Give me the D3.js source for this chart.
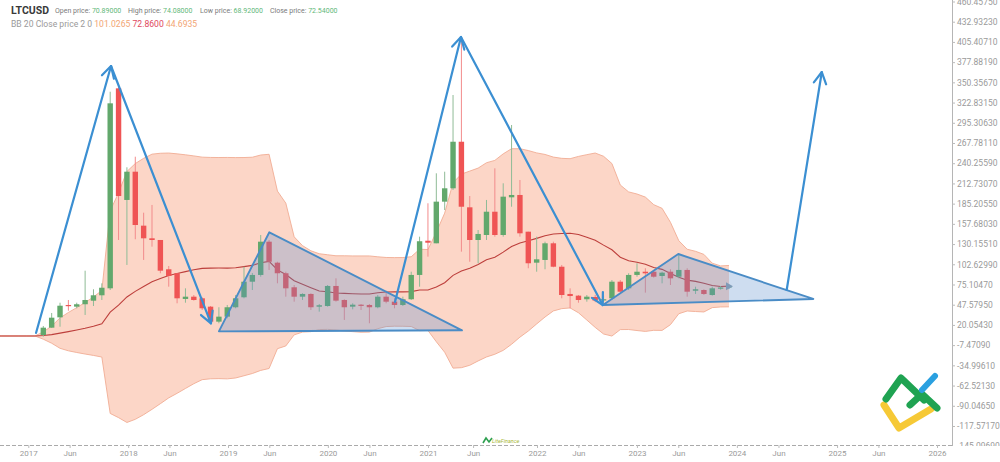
<!DOCTYPE html>
<html><head><meta charset="utf-8">
<script src="https://cdnjs.cloudflare.com/ajax/libs/d3/7.8.5/d3.min.js"></script>
<style>
html,body{margin:0;padding:0;background:#fff;}
svg{display:block;font-family:Roboto,"Liberation Sans",Arial,sans-serif;}
</style></head><body>
<svg id="chart" width="1000" height="462"></svg>
<script>
// ---------------- DATA ----------------
const symbol = "LTCUSD";
// monthly candles, March 2017 .. January 2024
const months = d3.timeMonth.range(new Date(2017, 2, 1), new Date(2024, 1, 1));
const candleOpen = [6.3,16.3,30.4,47.2,44.9,48.2,53.0,60.4,69.9,342.2,
190.2,228.7,155.2,138.0,135.7,95.8,90.4,55.4,58.5,56.3,
44.9,24.5,31.3,44.1,57.7,78.9,88.1,133.4,104.8,90.4,
71.3,58.5,62.2,44.9,45.8,73.1,54.0,44.9,47.6,47.2,
44.1,58.5,51.7,47.2,55.0,88.1,134.7,131.2,187.9,206.1,
269.5,180.2,135.7,142.5,174.2,142.5,193.8,197.0,147.0,104.8,
108.5,131.2,99.3,62.2,59.9,55.0,58.1,53.5,56.3,78.9,
69.9,88.1,92.5,92.5,86.7,92.5,85.7,94.9,66.6,67.6,
60.8,69.9,70.89];
const candleHigh = [18.6,36.3,50.3,54.0,50.3,93.9,68.6,76.7,337.6,344.4,
234.7,249.1,172.9,183.4,135.7,100.3,90.4,69.9,60.8,57.7,
45.8,44.1,47.2,60.8,99.3,90.8,142.5,135.7,106.1,92.5,
74.4,63.1,63.1,48.5,74.4,83.5,55.0,49.5,48.5,48.5,
60.8,66.7,56.3,58.5,92.5,140.2,185.7,226.5,228.7,333.1,
412.5,195.6,149.3,190.2,233.3,212.9,292.3,217.4,147.0,140.2,
133.4,133.4,101.7,69.9,60.8,60.8,61.0,60.0,81.2,81.2,
90.4,104.0,97.2,94.9,92.5,95.8,115.3,97.2,72.1,68.6,
72.1,73.0,74.08];
const candleLow = [4.0,15.9,17.6,39.4,42.7,33.6,45.8,54.0,67.6,135.7,
101.7,136.7,108.5,126.6,90.4,72.1,49.5,50.3,53.1,40.4,
22.3,22.3,29.1,42.7,56.3,67.6,85.7,94.9,76.7,58.5,
51.7,54.0,40.4,38.1,44.9,51.7,26.8,41.3,40.4,22.3,
42.7,49.5,42.7,45.8,54.0,72.1,113.0,131.2,176.5,203.8,
119.8,106.1,104.0,135.7,140.2,140.2,181.0,140.2,97.2,92.5,
95.8,98.5,56.3,42.7,50.3,51.7,51.0,50.5,54.0,64.0,
67.6,85.7,64.0,84.4,76.7,74.4,83.5,58.5,62.2,60.8,
59.9,68.0,68.92];
const candleClose = [16.3,29.9,46.2,45.8,48.2,54.0,60.4,70.7,321.8,195.6,
228.7,156.1,138.0,135.7,93.9,86.7,56.3,58.5,54.0,42.7,
24.5,31.3,44.1,56.3,78.9,88.1,133.4,106.1,90.4,69.9,
58.5,62.2,44.1,46.8,73.1,53.1,44.1,47.6,46.2,44.1,
58.5,51.7,47.2,55.0,88.1,134.0,132.0,187.9,206.1,269.5,
181.0,135.7,143.9,174.2,142.5,194.7,197.0,144.8,104.0,109.4,
131.2,99.3,60.8,59.4,54.0,58.5,53.3,55.0,78.9,65.3,
88.1,92.5,90.3,85.7,91.2,83.5,94.9,65.3,68.6,62.2,
69.9,71.0,72.54];

// Bollinger bands (20, 2); first entry is 6 months before March 2017
const bbFirstIndex = -6;
const bbUpper = [5,5,5,5,5,5,
10.5,18.5,29.6,37.0,43.6,50.6,58.1,66.9,175.3,200.1,
229.0,239.8,246.9,252.6,253.8,254.1,253.0,251.7,250.2,248.5,
248.1,248.0,248.1,247.9,248.0,248.4,251.4,252.4,202.3,185.9,
140.0,128.0,121.0,117.0,115.6,114.2,114.2,114.0,114.0,114.0,
112.8,111.9,111.7,111.8,112.9,123.1,122.7,146.3,172.3,213.7,
225.4,229.5,233.6,240.9,244.1,253.0,260.0,260.0,257.5,254.3,
252.2,248.6,246.9,246.4,249.5,251.9,254.1,249.7,239.8,210.6,
201.2,198.3,194.1,183.8,178.8,159.8,134.7,123.1,120.3,116.1,
104.1,100.4,101.0265];
const bbMiddle = [5,5,5,5,5,5,
5.6,6.8,8.9,10.9,13.1,15.5,18.3,21.6,37.4,46.9,
58.1,65.7,72.3,78.9,83.3,87.4,90.0,92.6,95.1,97.0,
97.4,97.5,97.4,97.9,99.4,101.1,104.8,106.5,95.0,88.7,
80.2,75.5,70.8,66.3,65.3,63.6,63.0,62.5,62.1,62.1,
63.8,64.9,65.0,65.0,65.4,67.7,67.6,71.7,77.5,87.5,
93.6,97.3,102.3,108.7,112.1,119.2,126.9,131.7,134.6,137.9,
141.5,143.9,144.6,144.8,143.1,139.3,135.4,128.7,122.4,112.2,
107.5,105.3,102.7,98.2,95.7,90.1,85.0,81.0,79.3,76.9,
73.8,72.4,72.86];
const bbLower = [5,5,5,5,5,5,
0.6,-4.9,-11.8,-15.2,-17.5,-19.6,-21.5,-23.7,-100.5,-106.2,
-112.8,-108.5,-102.2,-94.9,-87.2,-79.3,-73.1,-66.5,-60.0,-54.5,
-53.3,-53.1,-53.4,-52.2,-49.2,-46.1,-41.9,-39.3,-12.3,-8.6,
6.5,10.3,10.9,13.7,14.0,13.1,11.8,10.9,10.1,10.3,
14.9,17.8,18.3,18.2,17.9,12.3,12.5,-2.9,-17.2,-38.8,
-38.2,-34.9,-29.0,-23.6,-19.9,-14.6,-6.3,3.4,11.7,21.4,
30.8,39.1,42.2,43.2,36.6,26.7,16.7,7.7,4.9,13.7,
13.8,12.4,11.2,12.7,12.6,20.4,35.3,39.0,38.3,37.7,
43.6,44.5,44.6935];

// drawings anchored at [month index, price]
const arrowLines = [
  [[-0.87, 9.1], [8.1, 372.6]],
  [[8.1, 372.6], [20.05, 22.1]],
  [[42.06, 51.3], [49.95, 412.1]],
  [[49.95, 412.1], [66.9, 47.2]],
  [[88.9, 67.6], [93.1, 364.4]]
];
const triangles = [
  [[21.0, 11.3], [27.03, 146.2], [50.07, 12.7]],
  [[66.93, 47.2], [75.94, 116.6], [92.08, 55.4]]
];

// axis ticks
const yTicks = [460.4575,432.9323,405.4071,377.8819,350.3567,322.8315,295.3063,267.7811,
240.2559,212.7307,185.2055,157.6803,130.1551,102.6299,75.1047,47.5795,20.0543,
-7.4709,-34.9961,-62.5213,-90.0465,-117.5717,-145.0969];
const xTickLabels = ["2017","Jun","2018","Jun","2019","Jun","2020","Jun","2021","Jun",
"2022","Jun","2023","Jun","2024","Jun","2025","Jun","2026"];
const xTickDates = ["2017-01","2017-06","2018-01","2018-06","2019-01","2019-06","2020-01","2020-06",
"2021-01","2021-06","2022-01","2022-06","2023-01","2023-06","2024-01","2024-06","2025-01","2025-06","2026-01"];

// ---------------- CHART ----------------
const svg = d3.select("#chart");
const plotRight = 952, plotBottom = 445;

const x = d3.scaleLinear().domain([0, 82]).range([43.3, 43.3 + 82 * 8.362]);
const y = d3.scaleLinear().domain([-145.0969, 460.4575]).range([446.2, 1.5]);
const parseM = d3.timeParse("%Y-%m");
const xTime = d3.scaleTime()
  .domain([new Date(2017,0,1), new Date(2021,0,1), new Date(2022,0,1), new Date(2026,0,1)])
  .range([28.3, 428, 537, 937]);

svg.append("defs").append("clipPath").attr("id","plotclip")
  .append("rect").attr("x",0).attr("y",0).attr("width",plotRight).attr("height",plotBottom);
svg.select("defs").append("clipPath").attr("id","yclip")
  .append("rect").attr("x",plotRight).attr("y",0).attr("width",1000-plotRight).attr("height",446);

const plot = svg.append("g").attr("clip-path","url(#plotclip)");

// Bollinger band
const bb = bbUpper.map((u, k) => ({i: k + bbFirstIndex, up: u, mid: bbMiddle[k], lo: bbLower[k]}));
plot.append("path").datum(bb)
  .attr("d", d3.area().x(d => x(d.i)).y0(d => y(d.lo)).y1(d => y(d.up)))
  .attr("fill", "#fcd6c7");
plot.append("path").datum(bb)
  .attr("d", d3.line().x(d => x(d.i)).y(d => y(d.up)))
  .attr("fill","none").attr("stroke","#f0ad94").attr("stroke-width",0.9);
plot.append("path").datum(bb)
  .attr("d", d3.line().x(d => x(d.i)).y(d => y(d.lo)))
  .attr("fill","none").attr("stroke","#f0ad94").attr("stroke-width",0.9);
plot.append("path").datum(bb)
  .attr("d", d3.line().x(d => x(d.i)).y(d => y(d.mid)))
  .attr("fill","none").attr("stroke","#bd3f3c").attr("stroke-width",1.1);

// candles
const candles = months.map((m, i) => ({i, o: candleOpen[i], h: candleHigh[i], l: candleLow[i], c: candleClose[i]}));
const upBody = "#62a86c", downBody = "#ef5454", upWick = "#8fbb96", downWick = "#f28b8b";
plot.append("g").selectAll("line").data(candles).join("line")
  .attr("x1", d => x(d.i)).attr("x2", d => x(d.i))
  .attr("y1", d => y(d.h)).attr("y2", d => y(d.l))
  .attr("stroke", d => d.c >= d.o ? upWick : downWick).attr("stroke-width", 1);
const bw = 5.4;
plot.append("g").selectAll("rect").data(candles).join("rect")
  .attr("x", d => x(d.i) - bw/2).attr("width", bw)
  .attr("y", d => y(Math.max(d.o, d.c)))
  .attr("height", d => Math.max(1.2, Math.abs(y(d.o) - y(d.c))))
  .attr("fill", d => d.c >= d.o ? upBody : downBody);

// triangles
plot.append("g").selectAll("path").data(triangles).join("path")
  .attr("d", t => "M" + t.map(p => [x(p[0]), y(p[1])].join(",")).join("L") + "Z")
  .attr("fill", "rgba(92,142,206,0.3)")
  .attr("stroke", "#4a8cc6").attr("stroke-width", 1.9).attr("stroke-linejoin","round");

// last value marker
const last = bb[bb.length - 1];
plot.append("path")
  .attr("d", `M${x(last.i)-3},${y(last.mid)-4}L${x(last.i)+4},${y(last.mid)}L${x(last.i)-3},${y(last.mid)+4}Z`)
  .attr("fill", "#7f9bb8");

// arrows
const arrowG = plot.append("g").attr("stroke", "#3b8fd2").attr("stroke-width", 2.2)
  .attr("stroke-linecap","round").attr("fill","none");
arrowLines.forEach(([a, b]) => {
  const x1 = x(a[0]), y1 = y(a[1]), x2 = x(b[0]), y2 = y(b[1]);
  arrowG.append("line").attr("x1",x1).attr("y1",y1).attr("x2",x2).attr("y2",y2);
  const ang = Math.atan2(y2 - y1, x2 - x1), len = 13, spread = 0.5;
  const w1 = [x2 - len*Math.cos(ang - spread), y2 - len*Math.sin(ang - spread)];
  const w2 = [x2 - len*Math.cos(ang + spread), y2 - len*Math.sin(ang + spread)];
  arrowG.append("path").attr("d", `M${w1}L${x2},${y2}L${w2}`).attr("stroke-linejoin","round");
});

// bottom axis
svg.append("line").attr("x1",0).attr("x2",plotRight).attr("y1",plotBottom+0.5).attr("y2",plotBottom+0.5)
  .attr("stroke","#aaa").attr("stroke-dasharray","4,2").attr("stroke-width",1);
const xAxis = d3.axisBottom(xTime)
  .tickValues(xTickDates.map(parseM))
  .tickFormat((d, k) => xTickLabels[k])
  .tickSize(3).tickPadding(2);
const gx = svg.append("g").attr("transform", `translate(0,${plotBottom})`).call(xAxis);
gx.select(".domain").remove();
gx.selectAll(".tick line").attr("stroke","#bbb");
gx.selectAll(".tick text").attr("fill","#9a9a9a").attr("font-size","8px")
  .attr("font-family","Roboto, 'Liberation Sans', Arial, sans-serif");

// right axis
svg.append("line").attr("x1",plotRight+0.5).attr("x2",plotRight+0.5).attr("y1",0).attr("y2",plotBottom+1)
  .attr("stroke","#b5b5b5").attr("stroke-width",1);
const yAxis = d3.axisRight(y).tickValues(yTicks).tickFormat(d => d.toFixed(5)).tickSize(3).tickPadding(2);
const gy = svg.append("g").attr("clip-path","url(#yclip)").append("g")
  .attr("transform", `translate(${plotRight},0)`).call(yAxis);
gy.select(".domain").remove();
gy.selectAll(".tick line").attr("stroke","#bbb");
gy.selectAll(".tick text").attr("fill","#9a9a9a").attr("font-size","8.5px")
  .attr("font-family","Roboto, 'Liberation Sans', Arial, sans-serif");

// header
const hdr = svg.append("g");
hdr.append("text").attr("x",11).attr("y",14).text(symbol)
  .attr("font-size","10.5px").attr("font-weight","bold").attr("fill","#3a3a3a");
const lastC = candles[candles.length - 1];
const ohlc = [["Open price: ", lastC.o, 55], ["High price: ", lastC.h, 128], ["Low price: ", lastC.l, 200], ["Close price: ", lastC.c, 270]];
ohlc.forEach(([lab, v, px]) => {
  const t = hdr.append("text").attr("x", px).attr("y", 13).attr("font-size","7px");
  t.append("tspan").attr("fill","#7a7a7a").text(lab);
  t.append("tspan").attr("fill","#5fb87a").text(v.toFixed(5));
});
const bbT = hdr.append("text").attr("x",11).attr("y",27).attr("font-size","8.6px");
bbT.append("tspan").attr("fill","#9a9a9a").text("BB 20 Close price 2 0 ");
bbT.append("tspan").attr("fill","#f2a574").text(last.up.toFixed(4) + " ");
bbT.append("tspan").attr("fill","#e0485e").text(last.mid.toFixed(4) + " ");
bbT.append("tspan").attr("fill","#f2a574").text(last.lo.toFixed(4));

// watermark logo
const logo = svg.append("g").attr("fill","none").attr("stroke-linecap","round").attr("stroke-linejoin","round");
logo.append("path").attr("d","M884,405 L899,428 L931,409").attr("stroke","#f6c936").attr("stroke-width",7);
logo.append("path").attr("d","M886,399 L901,378 L924,400").attr("stroke","#1fa352").attr("stroke-width",7);
logo.append("path").attr("d","M910,405 L922,394 L937,408").attr("stroke","#1fa352").attr("stroke-width",7);
logo.append("path").attr("d","M922,390 L935,376").attr("stroke","#2aa0e0").attr("stroke-width",6);
// small footer logo
const sm = svg.append("g");
sm.append("path").attr("d","M483,443 L486,438 L489,442 L492,438").attr("fill","none").attr("stroke","#2d9f4f").attr("stroke-width",1.6);
sm.append("text").attr("x",492).attr("y",443).text("LiteFinance").attr("font-size","5.5px").attr("fill","#a9b83a").attr("font-style","italic");
</script>
</body></html>
